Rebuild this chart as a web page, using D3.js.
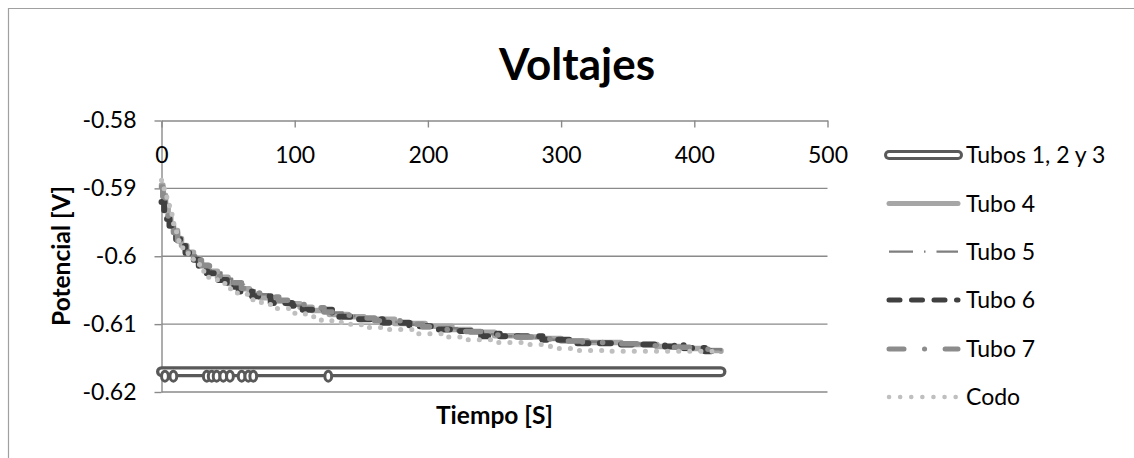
<!DOCTYPE html>
<html><head><meta charset="utf-8">
<script src="https://cdn.jsdelivr.net/npm/d3@7"></script>
<style>
html,body{margin:0;padding:0;background:#fff;}
svg text{font-family:Lato,"Open Sans",sans-serif;fill:#000;}
</style></head>
<body><svg id="c" width="1134" height="458"></svg>
<script>
// ---------- data ----------
const tituloGrafico = "Voltajes";
const tituloX = "Tiempo [S]";
const tituloY = "Potencial [V]";
const xTicks = [0, 100, 200, 300, 400, 500];
const yTicks = [-0.58, -0.59, -0.6, -0.61, -0.62];
const yTickLabels = ["-0.58", "-0.59", "-0.6", "-0.61", "-0.62"];
const nombresSeries = ["Tubos 1, 2 y 3", "Tubo 4", "Tubo 5", "Tubo 6", "Tubo 7", "Codo"];

// [tiempo (s), potencial (V)]
const tubos123 = [[0,-0.617],[420,-0.617]];
const bucles123 = [2.6, 8.9, 34, 37.7, 41.4, 46.4, 51.4, 60.2, 65.2, 68.9, 125.2];

const tubo4 = [[0,-0.5895],[1,-0.5910],[3,-0.5925],[5,-0.5940],[7,-0.5952],[9,-0.5962],[12,-0.5974],[15,-0.5984],[19,-0.5994],[24,-0.6004],[29,-0.6013],[35,-0.6022],[42,-0.6031],[50,-0.6040],[59,-0.6048],[66,-0.6056],[74,-0.6061],[85,-0.6066],[94,-0.6070],[104,-0.6075],[113,-0.6080],[126,-0.6086],[140,-0.6089],[152,-0.6093],[175,-0.6099],[198,-0.6103],[218,-0.6108],[232,-0.6112],[250,-0.6117],[268,-0.6119],[285,-0.6121],[300,-0.6125],[320,-0.6127],[345,-0.6130],[372,-0.6133],[392,-0.6136],[405,-0.6139],[420,-0.6140]];
const tubo5 = [[0,-0.5900],[2,-0.5915],[4,-0.5930],[6,-0.5944],[8,-0.5956],[10,-0.5966],[13,-0.5978],[17,-0.5989],[21,-0.5999],[26,-0.6008],[31,-0.6016],[37,-0.6024],[45,-0.6033],[53,-0.6042],[62,-0.6050],[70,-0.6056],[80,-0.6063],[90,-0.6068],[100,-0.6073],[112,-0.6078],[124,-0.6083],[136,-0.6088],[150,-0.6092],[168,-0.6097],[188,-0.6101],[205,-0.6106],[222,-0.6110],[240,-0.6115],[256,-0.6118],[276,-0.6120],[292,-0.6123],[310,-0.6126],[334,-0.6129],[360,-0.6131],[380,-0.6134],[398,-0.6137],[420,-0.6140]];
const tubo6 = [[0,-0.5920],[2,-0.5935],[4,-0.5945],[6,-0.5955],[8,-0.5965],[11,-0.5975],[14,-0.5985],[18,-0.5995],[23,-0.6005],[28,-0.6015],[34,-0.6025],[41,-0.6035],[49,-0.6045],[58,-0.6052],[68,-0.6059],[82,-0.6069],[98,-0.6073],[106,-0.6079],[128,-0.6089],[146,-0.6093],[166,-0.6098],[186,-0.6103],[204,-0.6108],[220,-0.6110],[240,-0.6118],[250,-0.6114],[254,-0.6118],[286,-0.6123],[310,-0.6128],[340,-0.6130],[378,-0.6133],[385,-0.6130],[392,-0.6135],[408,-0.6140],[420,-0.6140]];
const tubo7 = [[0,-0.5898],[1,-0.5912],[3,-0.5928],[5,-0.5942],[7,-0.5955],[9,-0.5965],[12,-0.5977],[16,-0.5988],[20,-0.5997],[25,-0.6006],[30,-0.6014],[36,-0.6022],[43,-0.6030],[51,-0.6039],[60,-0.6047],[69,-0.6054],[78,-0.6060],[88,-0.6065],[99,-0.6071],[110,-0.6076],[122,-0.6082],[135,-0.6087],[148,-0.6091],[160,-0.6095],[180,-0.6100],[196,-0.6104],[212,-0.6108],[228,-0.6111],[244,-0.6116],[262,-0.6119],[282,-0.6122],[298,-0.6125],[316,-0.6127],[338,-0.6129],[362,-0.6132],[384,-0.6134],[400,-0.6137],[420,-0.6140]];
const codo = [[0,-0.5888],[2,-0.5903],[4,-0.5922],[6,-0.5938],[8,-0.5952],[10,-0.5964],[13,-0.5978],[16,-0.5990],[20,-0.6002],[24,-0.6012],[29,-0.6022],[35,-0.6031],[42,-0.6040],[49,-0.6048],[57,-0.6056],[66,-0.6064],[75,-0.6071],[85,-0.6077],[96,-0.6084],[108,-0.6089],[120,-0.6095],[135,-0.6100],[150,-0.6105],[168,-0.6108],[190,-0.6114],[210,-0.6119],[230,-0.6123],[250,-0.6127],[272,-0.6130],[292,-0.6136],[312,-0.6139],[332,-0.6140],[420,-0.6140]];

// ---------- styles ----------
const estilos = [
  {color:"#595959", width:11, dash:null, doble:true},
  {color:"#a6a6a6", width:5.5, lw:5, dash:null},
  {color:"#7f7f7f", width:2.5, lw:2.2, dash:"24 11 1.5 11", cap:"butt"},
  {color:"#404040", width:6, lw:5, dash:"11 11.5"},
  {color:"#8c8c8c", width:5.5, lw:5, dash:"15 20.5 0.1 20.5"},
  {color:"#bfbfbf", width:5, lw:4.5, dash:"0.1 11"}
];
const seriesCurvas = [tubo4, tubo5, tubo6, tubo7, codo];

const svg = d3.select("#c");
const x = d3.scaleLinear().domain([0, 500]).range([161.5, 827.5]);
const y = d3.scaleLinear().domain([-0.62, -0.58]).range([392, 120.5]);
const gridC = "#8a8a8a";

// outer chart border
svg.append("path").attr("d","M8.5,458V8.5H1134").attr("fill","none").attr("stroke","#a0a0a0").attr("stroke-width",1.2);

// gridlines
svg.append("g").selectAll("line").data(yTicks.slice(1)).join("line")
  .attr("x1", x(0)).attr("x2", x(500)).attr("y1", d=>y(d)).attr("y2", d=>y(d))
  .attr("stroke", gridC).attr("stroke-width", 1.4);

// y axis
const gy = svg.append("g").attr("transform",`translate(${x(0)},0)`)
  .call(d3.axisLeft(y).tickValues(yTicks).tickFormat((d,i)=>yTickLabels[i]).tickSize(7).tickSizeOuter(0).tickPadding(18));
// x axis on top (crosses at -0.58)
const gx = svg.append("g").attr("transform",`translate(0,${y(-0.58)})`)
  .call(d3.axisBottom(x).tickValues(xTicks).tickFormat(d3.format("d")).tickSize(7).tickSizeOuter(0).tickPadding(19));
[gx, gy].forEach(g=>{
  g.select(".domain").attr("stroke", gridC).attr("stroke-width",1.4);
  g.selectAll(".tick line").attr("stroke", gridC).attr("stroke-width",1.4);
  g.selectAll(".tick text").attr("font-size",23).attr("font-family","Lato").attr("fill","#000");
});

// lines
const linea = d3.line().x(d=>x(d[0])).y(d=>y(d[1]));
const escalon = d3.line().x(d=>x(d[0])).y(d=>y(d[1])).curve(d3.curveStepAfter);
const e0 = estilos[0];
svg.append("path").attr("d", linea(tubos123)).attr("fill","none")
  .attr("stroke", e0.color).attr("stroke-width", e0.width).attr("stroke-linecap","round");
svg.append("path").attr("d", linea(tubos123)).attr("fill","none")
  .attr("stroke", "#fff").attr("stroke-width", 4.5).attr("stroke-linecap","round");
svg.append("g").selectAll("ellipse").data(bucles123).join("ellipse")
  .attr("cx", d=>x(d)).attr("cy", y(-0.617)+4.5).attr("rx", 3.4).attr("ry", 5)
  .attr("fill","#fff").attr("stroke", e0.color).attr("stroke-width", 3);

seriesCurvas.forEach((vals, k)=>{
  const e = estilos[k+1];
  svg.append("path").attr("d", escalon(vals))
    .attr("fill","none").attr("stroke", e.color).attr("stroke-width", e.width)
    .attr("stroke-linecap", e.cap || "round").attr("stroke-linejoin","round")
    .attr("stroke-dasharray", e.dash);
});

// legend
const legY = [155, 203.5, 251.7, 300, 349, 397];
const leg = svg.append("g");
nombresSeries.forEach((n, i)=>{
  const e = estilos[i];
  const yy = legY[i];
  leg.append("line").attr("x1", 889).attr("x2", 958).attr("y1", yy).attr("y2", yy)
    .attr("stroke", e.color).attr("stroke-width", e.doble ? 10 : e.lw)
    .attr("stroke-linecap", e.cap || "round").attr("stroke-dasharray", e.dash);
  if (e.doble) {
    leg.append("line").attr("x1", 889).attr("x2", 958).attr("y1", yy).attr("y2", yy)
      .attr("stroke", "#fff").attr("stroke-width", 4).attr("stroke-linecap","round");
  }
  leg.append("text").attr("x", 966).attr("y", yy).attr("dy","0.36em")
    .attr("font-size", 23).text(n);
});

// titles
svg.append("text").attr("x", 577).attr("y", 80).attr("text-anchor","middle")
  .attr("font-size", 44).attr("font-weight","bold").text(tituloGrafico);
svg.append("text").attr("x", 494.5).attr("y", 424).attr("text-anchor","middle")
  .attr("font-size", 24.5).attr("font-weight","bold").text(tituloX);
svg.append("text").attr("transform","translate(70,256) rotate(-90)").attr("text-anchor","middle")
  .attr("font-size", 24.5).attr("font-weight","bold").text(tituloY);
</script></body></html>
